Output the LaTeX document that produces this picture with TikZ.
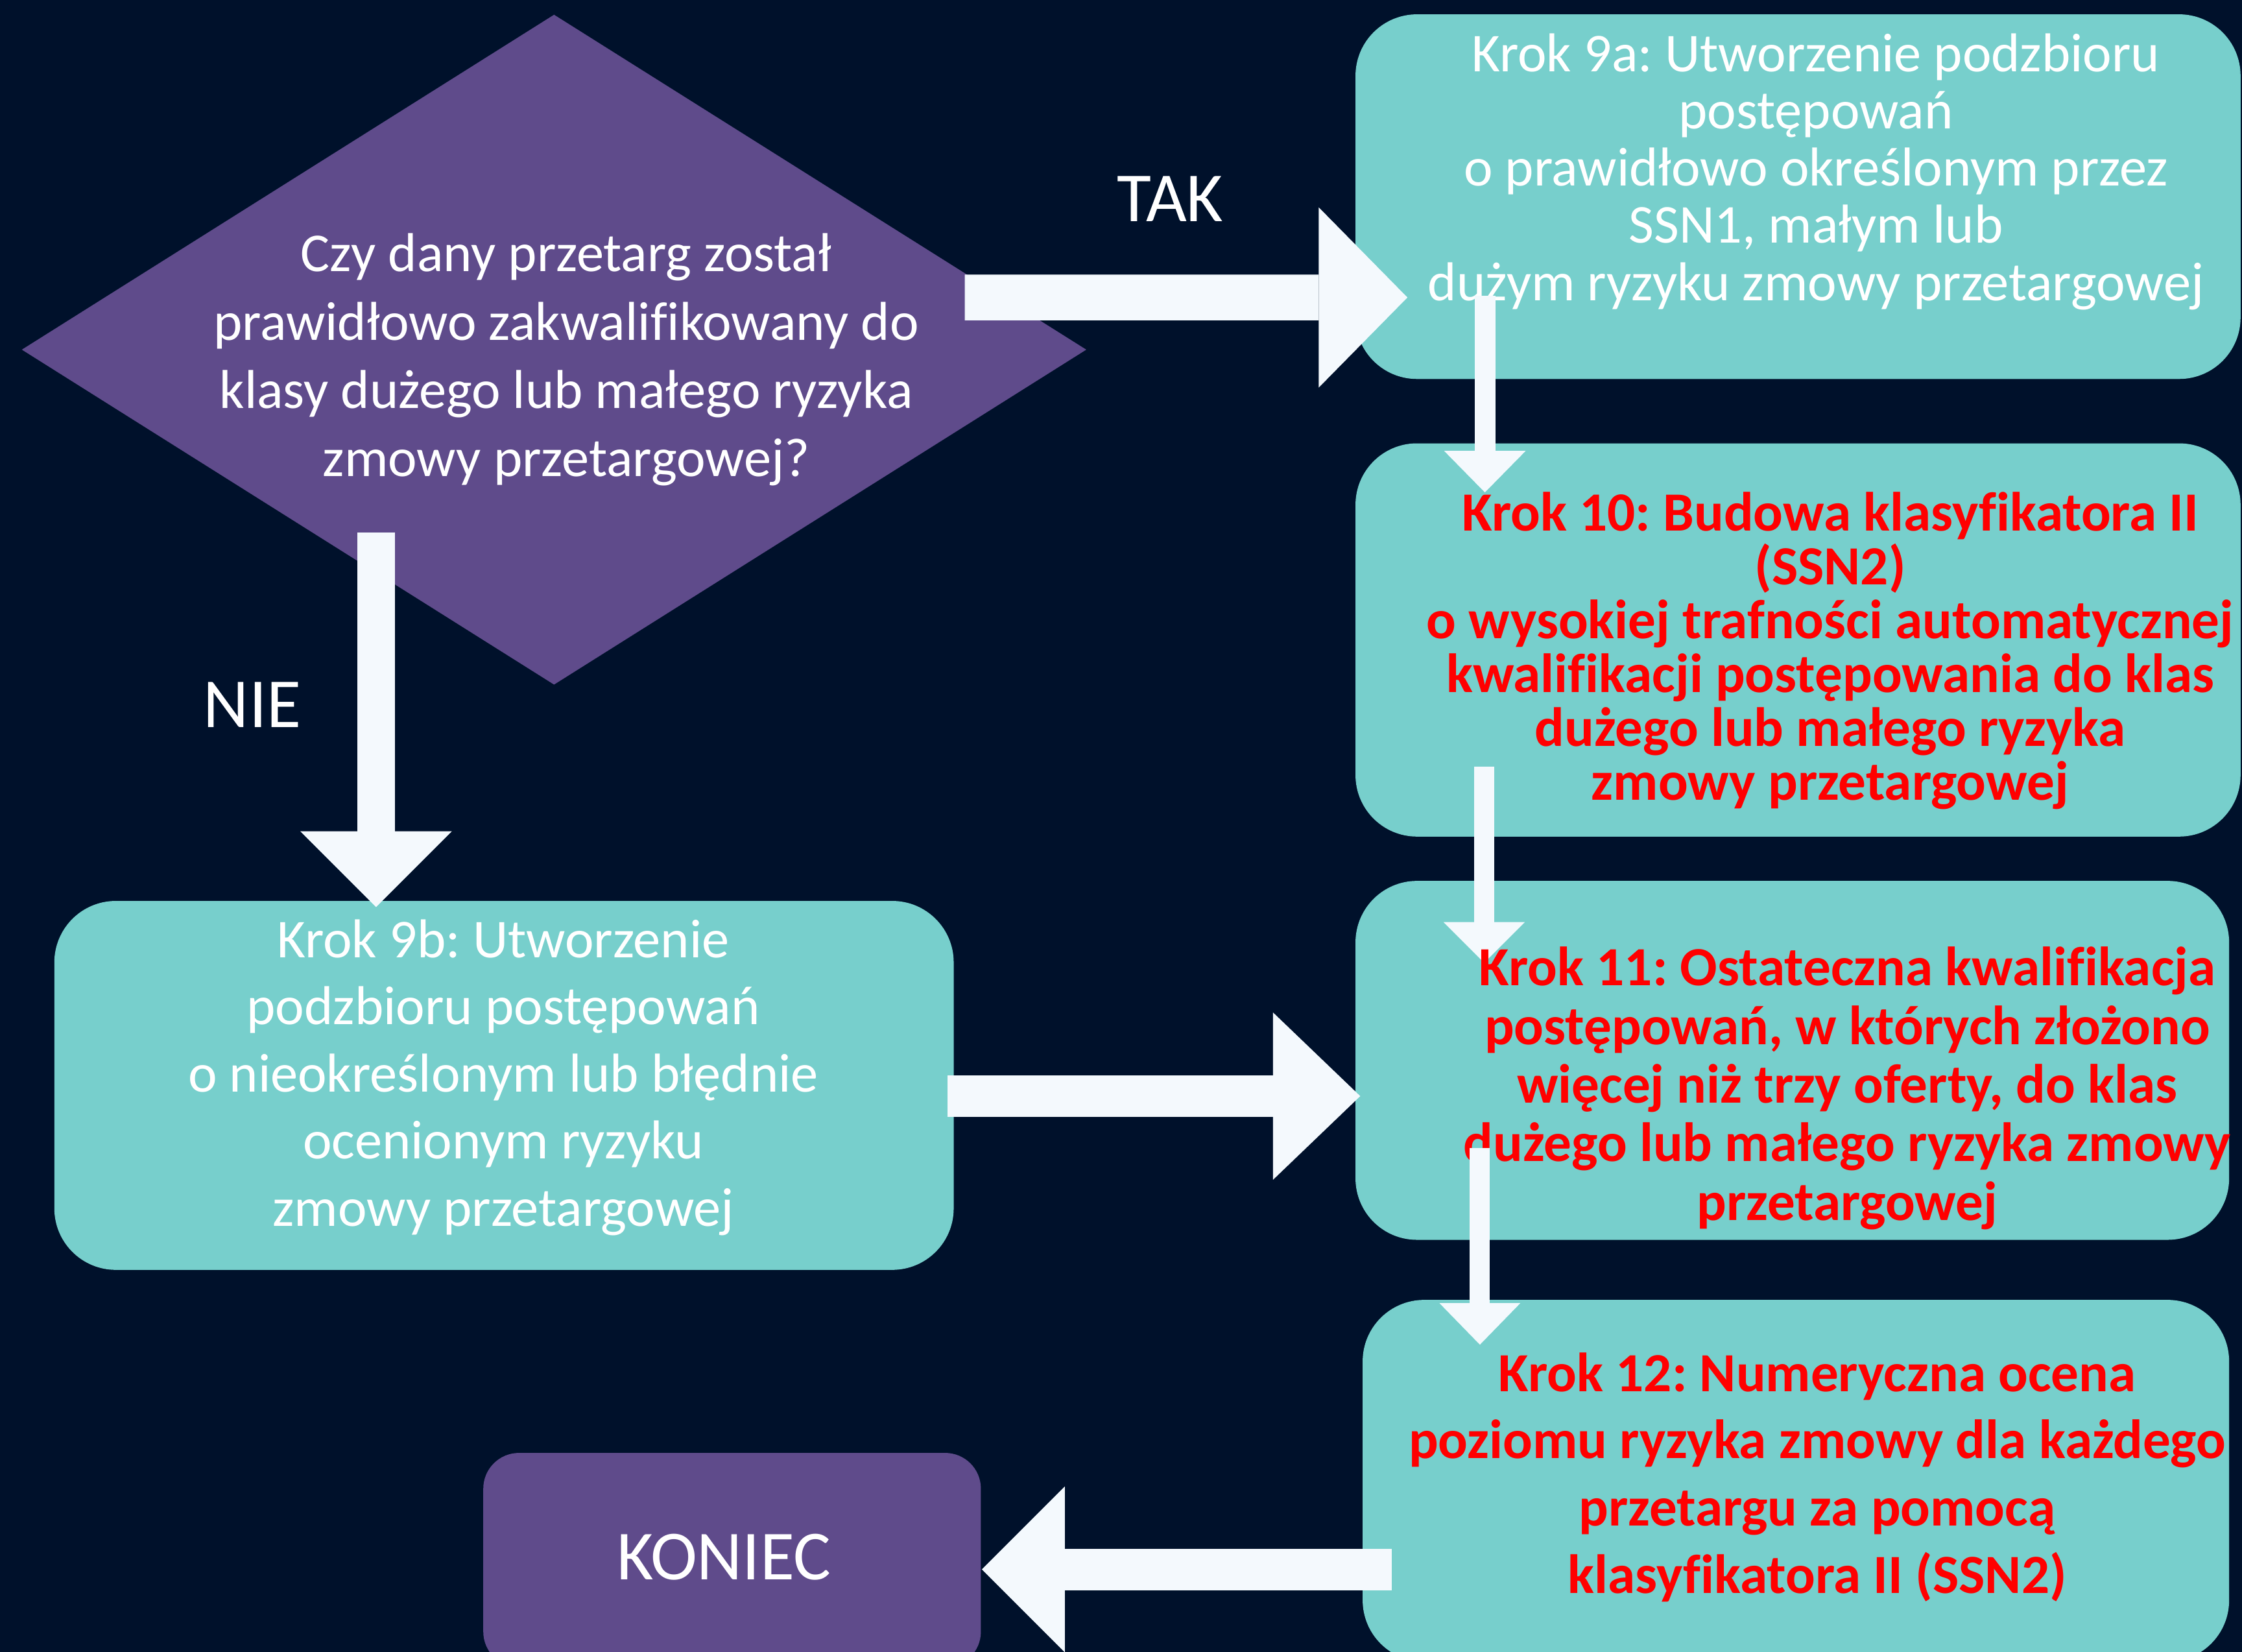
\documentclass[tikz,border=0pt]{standalone}
\usepackage{fontspec}
\setmainfont{Carlito}[Ligatures=NoCommon]
\frenchspacing
\usetikzlibrary{shapes.geometric,arrows.meta}

\definecolor{bgnavy}{RGB}{0,17,43}
\definecolor{tealbox}{RGB}{119,207,204}
\definecolor{purplebox}{RGB}{95,75,139}
\definecolor{arrowwhite}{RGB}{244,249,253}

\tikzset{
  stepbox/.style={rectangle, rounded corners=4.3mm, fill=tealbox, inner sep=0pt},
  endbox/.style={rectangle, rounded corners=2.5mm, fill=purplebox, inner sep=0pt},
  question/.style={diamond, fill=purplebox, inner sep=0pt},
  whitetext/.style={text=white, align=center, font=\fontsize{10.9pt}{#1}\selectfont},
  redtext/.style={text=red, align=center, font=\bfseries\fontsize{11pt}{#1}\selectfont},
  bigtext/.style={text=white, font=\fontsize{14pt}{17pt}\selectfont},
  blockarrow/.style n args={3}{draw=arrowwhite, line width=#1, -{Triangle[length=#2, width=#3, line width=0pt]}},
}

\begin{document}
\begin{tikzpicture}[x=0.1mm, y=-0.1mm]
\useasboundingbox (0,0) rectangle (1568,1155);
\fill[bgnavy] (0,0) rectangle (1568,1155);
\clip (0,0) rectangle (1568,1155);

\node[question, minimum width=74.5mm, minimum height=46.9mm] (question) at (387.5,244.5) {};
\node[stepbox, minimum width=61.9mm, minimum height=25.5mm] (step9a) at (1257.5,137.5) {};
\node[stepbox, minimum width=61.9mm, minimum height=27.5mm] (step10) at (1257.5,447.5) {};
\node[stepbox, minimum width=61.1mm, minimum height=25.1mm] (step11) at (1253.5,741.5) {};
\node[stepbox, minimum width=60.6mm, minimum height=25.3mm] (step12) at (1256,1035.5) {};
\node[stepbox, minimum width=62.9mm, minimum height=25.8mm] (step9b) at (352.5,759) {};
\node[endbox, minimum width=34.8mm, minimum height=15mm] (koniec) at (512,1091) {};

\node[whitetext=13.57pt] (question-text) at (396,251.5) {Czy dany przetarg został\\prawidłowo zakwalifikowany do\\klasy dużego lub małego ryzyka\\zmowy przetargowej?};
\node[whitetext=11.38pt] (step9a-text) at (1270,120) {Krok 9a: Utworzenie podzbioru\\postępowań\\o prawidłowo określonym przez\\SSN1, małym lub\\dużym ryzyku zmowy przetargowej};
\node[redtext=10.7pt] (step10-text) at (1280,455) {Krok 10: Budowa klasyfikatora II\\(SSN2)\\o wysokiej trafności automatycznej\\kwalifikacji postępowania do klas\\dużego lub małego ryzyka\\zmowy przetargowej};
\node[redtext=13.37pt] (step12-text) at (1271,1033) {Krok 12: Numeryczna ocena\\poziomu ryzyka zmowy dla każdego\\przetargu za pomocą\\klasyfikatora II (SSN2)};
\node[whitetext=13.37pt] (step9b-text) at (352,753.5) {Krok 9b: Utworzenie\\podzbioru postępowań\\o nieokreślonym lub błędnie\\ocenionym ryzyku\\zmowy przetargowej};
\node[bigtext] (koniec-text) at (506.5,1089) {KONIEC};
\node[bigtext] (tak) at (818.5,139) {TAK};
\node[bigtext] (nie) at (176.5,493) {NIE};

\draw[blockarrow={3.2mm}{6.2mm}{12.6mm}] ([shift={(-86,-36.5)}]question.east) -- ([shift={(37,70.5)}]step9a.west);
\draw[blockarrow={2.65mm}{5.3mm}{10.6mm}] ([shift={(-124.5,-107.5)}]question.south) -- ([shift={(-89.5,5)}]step9b.north);
\draw[blockarrow={1.45mm}{2.9mm}{5.7mm}] ([shift={(-219,-59)}]step9a.south) -- ([shift={(-219,35)}]step10.north);
\draw[blockarrow={1.45mm}{2.85mm}{5.7mm}] ([shift={(-219.5,-49.5)}]step10.south) -- ([shift={(-215.5,58)}]step11.north);
\draw[blockarrow={2.9mm}{6.1mm}{11.7mm}] ([shift={(-5,7.5)}]step9b.east) -- ([shift={(4,25)}]step11.west);
\draw[blockarrow={2.9mm}{5.8mm}{11.6mm}] ([shift={(21,62)}]step12.west) -- ([shift={(0,6.5)}]koniec.east);

\node[redtext=11.66pt] (step11-text) at (1292,761) {Krok 11: Ostateczna kwalifikacja\\postępowań, w których złożono\\więcej niż trzy oferty, do klas\\dużego lub małego ryzyka zmowy\\przetargowej};
\draw[blockarrow={1.4mm}{2.9mm}{5.65mm}] ([shift={(-218.5,-65)}]step11.south) -- ([shift={(-221,32)}]step12.north);
\end{tikzpicture}
\end{document}
